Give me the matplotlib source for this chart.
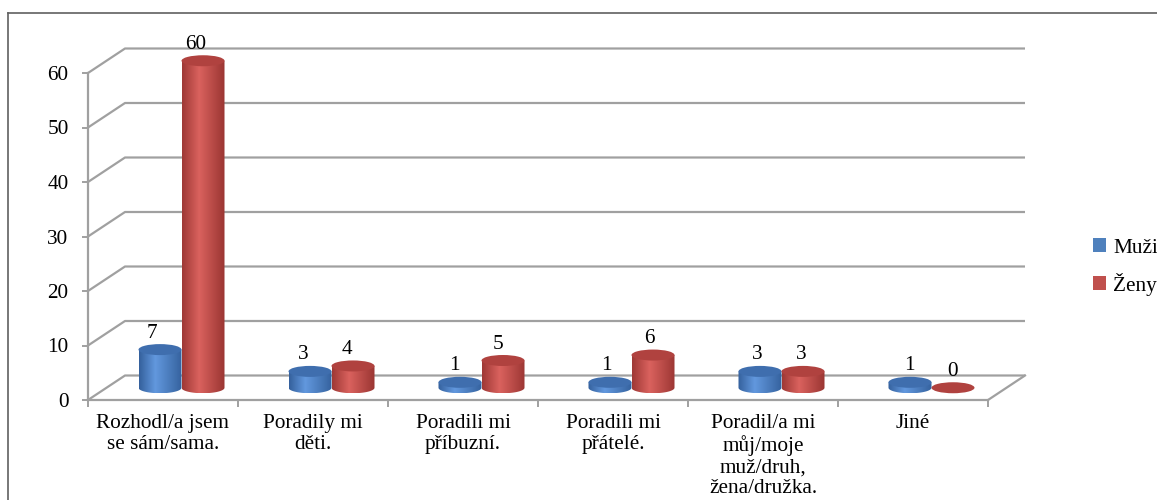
import numpy as np
import matplotlib
matplotlib.use("Agg")
import matplotlib.pyplot as plt
from matplotlib.patches import Ellipse, PathPatch, Patch
from matplotlib.path import Path
from matplotlib.colors import LinearSegmentedColormap
from matplotlib.lines import Line2D

plt.rcParams['font.family'] = ['Liberation Serif', 'DejaVu Serif']

categories = ['Rozhodl/a jsem\nse sám/sama.', 'Poradily mi\nděti.', 'Poradili mi\npříbuzní.',
              'Poradili mi\npřátelé.', 'Poradil/a mi\nmůj/moje\nmuž/druh,\nžena/družka.', 'Jiné']
muzi = [7, 3, 1, 1, 3, 1]
zeny = [60, 4, 5, 6, 3, 0]
series_names = ['Muži', 'Ženy']
yticks = [0, 10, 20, 30, 40, 50, 60]

W, H = 1157, 500
fs = 15.3
fig = plt.figure(figsize=(W / 100, H / 100), dpi=100)

# pixel layout of the 3D box
px_x0, px_cat = 88, 150.0      # front left corner, width of one category
px_y0, px_unit = 400, 5.45     # front floor, pixels per unit
px_dx, px_dy = 37, 24.5        # depth offset of the back wall
d = px_dx / px_cat
dv = px_dy / px_unit
n = len(categories)
ymax = yticks[-1]

right_px = px_x0 + (n + d) * px_cat
top_px = px_y0 - (ymax + dv) * px_unit
ax = fig.add_axes([px_x0 / W, 1 - px_y0 / H, (right_px - px_x0) / W, (px_y0 - top_px) / H])
ax.set_xlim(0, n + d)
ax.set_ylim(0, ymax + dv)

grid_c = '#a0a0a0'
# back wall grid with the diagonals to the front axis
for v in yticks:
    ax.plot([0, d, n + d], [v, v + dv, v + dv], color=grid_c, lw=1.6,
            solid_capstyle='butt', zorder=1, clip_on=False)
ax.plot([n, n + d], [0, dv], color=grid_c, lw=1.6, zorder=1, clip_on=False)

for side in ['top', 'right']:
    ax.spines[side].set_visible(False)
ax.spines['left'].set_bounds(0, ymax)
ax.spines['bottom'].set_bounds(0, n)
for side in ['left', 'bottom']:
    ax.spines[side].set_color(grid_c)
    ax.spines[side].set_linewidth(1.6)
    ax.spines[side].set_zorder(2)

ax.set_yticks(yticks)
ax.set_yticklabels([str(v) for v in yticks], fontsize=fs)
ax.tick_params(axis='y', length=4, width=1.4, color=grid_c, pad=10)
ax.set_xticks(np.arange(n + 1))
ax.set_xticklabels([])
ax.tick_params(axis='x', which='major', length=5, width=1.4, color=grid_c)
ax.set_xticks(np.arange(n) + 0.5, minor=True)
ax.set_xticklabels(categories, minor=True, fontsize=fs, linespacing=1.15)
ax.tick_params(axis='x', which='minor', length=0, pad=10)
ax.patch.set_visible(False)

blue_map = LinearSegmentedColormap.from_list('b', [(0, '#34609c'), (0.38, '#6298de'), (1, '#35629e')])
red_map = LinearSegmentedColormap.from_list('r', [(0, '#9e3835'), (0.4, '#da625e'), (1, '#9a3532')])
tops = ['#3f6eae', '#b0423f']
maps = [blue_map, red_map]

bw = 43 / px_cat               # cylinder diameter
eh = 11 / px_unit              # ellipse height
base = dv / 2
grad = np.linspace(0, 1, 256).reshape(1, -1)

z = 3
for i in range(n):
    for j, vals in enumerate([muzi, zeny]):
        val = vals[i]
        cx = i + 0.5 + d / 2 + (j - 0.5) * bw
        ytop = base + val
        if val > 0:
            t = np.linspace(np.pi, 2 * np.pi, 40)
            arc = np.column_stack([cx + bw / 2 * np.cos(t), base + eh / 2 * np.sin(t)])
            verts = np.vstack([[cx - bw / 2, ytop], arc, [cx + bw / 2, ytop], [cx - bw / 2, ytop]])
            body = PathPatch(Path(verts, closed=True), transform=ax.transData,
                             facecolor='none', edgecolor='none')
            ax.add_patch(body)
            im = ax.imshow(grad, cmap=maps[j], aspect='auto', zorder=z,
                           extent=(cx - bw / 2, cx + bw / 2, base - eh / 2, ytop))
            im.set_clip_path(body)
        ax.add_patch(Ellipse((cx, ytop), bw, eh, facecolor=tops[j],
                             edgecolor='none', zorder=z + 0.05))
        z += 0.1
        # value labels, nudged for the perspective
        nudge = (-9 + 9 * cx / n) / px_cat
        ax.annotate(str(val), (cx + nudge, ytop), xytext=(0, 5),
                    textcoords='offset points', ha='center', va='bottom',
                    fontsize=fs, zorder=10, annotation_clip=False)

ax.set_xlim(0, n + d)
ax.set_ylim(0, ymax + dv)

handles = [Patch(facecolor='#4f81bd'), Patch(facecolor='#c0504d')]
fig.legend(handles, series_names, loc='center left', bbox_to_anchor=(1074 / W, 1 - 267 / H),
           frameon=False, fontsize=fs, handlelength=0.6, handleheight=0.6,
           handletextpad=0.35, labelspacing=0.7)

# outer frame
fig.add_artist(Line2D([8 / W, 1], [1 - 13 / H, 1 - 13 / H], color='#606060', lw=1.2))
fig.add_artist(Line2D([8 / W, 8 / W], [0, 1 - 13 / H], color='#606060', lw=1.2))

fig.savefig('out.png', dpi=100)
